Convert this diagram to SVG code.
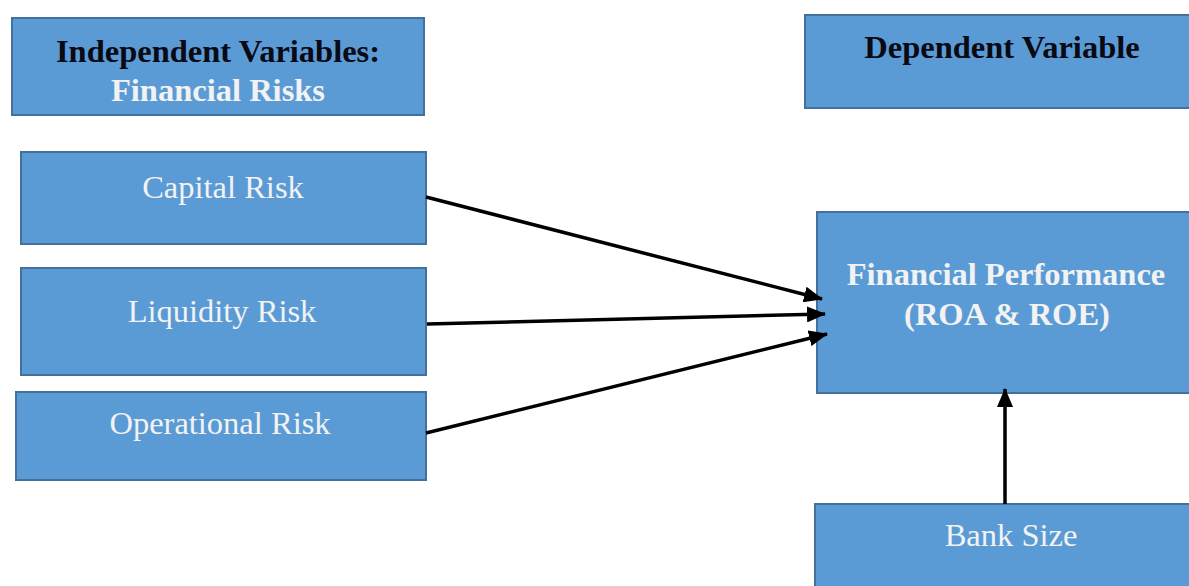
<svg xmlns="http://www.w3.org/2000/svg" width="1189" height="586" viewBox="0 0 1189 586">
  <defs>
    <style>
      .box { fill: #5b9bd5; stroke: #41719c; stroke-width: 2; }
      .hd { font-family: "Liberation Serif", "Times New Roman", serif; font-size: 32.5px; font-weight: bold; text-anchor: middle; }
      .dark { fill: #0a0a14; }
      .light { fill: #f2f2f2; }
      .lbl { font-family: "Liberation Serif", "Times New Roman", serif; font-size: 32.5px; text-anchor: middle; fill: #f2f2f2; }
      .link { stroke: #000; stroke-width: 3.5; fill: none; marker-end: url(#arrow); }
    </style>
    <marker id="arrow" markerUnits="userSpaceOnUse" markerWidth="20" markerHeight="16" refX="18" refY="8" orient="auto">
      <path d="M0,0 L19,8 L0,16 z" fill="#000"/>
    </marker>
  </defs>
  <rect width="1189" height="586" fill="#ffffff"/>

  <g id="independent-header">
    <rect class="box" x="12" y="18" width="412" height="97"/>
    <text class="hd dark" x="218" y="62">Independent Variables:</text>
    <text class="hd light" x="218" y="101">Financial Risks</text>
  </g>

  <g id="dependent-header">
    <rect class="box" x="805" y="15" width="400" height="93"/>
    <text class="hd dark" x="1002" y="58">Dependent Variable</text>
  </g>

  <g id="capital-risk">
    <rect class="box" x="21" y="152" width="405" height="92"/>
    <text class="lbl" x="223" y="198">Capital Risk</text>
  </g>

  <g id="liquidity-risk">
    <rect class="box" x="21" y="268" width="405" height="107"/>
    <text class="lbl" x="222" y="322">Liquidity Risk</text>
  </g>

  <g id="operational-risk">
    <rect class="box" x="16" y="392" width="410" height="88"/>
    <text class="lbl" x="220" y="434">Operational Risk</text>
  </g>

  <g id="financial-performance">
    <rect class="box" x="817" y="212" width="390" height="181"/>
    <text class="hd light" x="1006" y="285">Financial Performance</text>
    <text class="hd light" x="1007" y="325">(ROA &amp; ROE)</text>
  </g>

  <g id="bank-size">
    <rect class="box" x="815" y="504" width="390" height="100"/>
    <text class="lbl" x="1011" y="546">Bank Size</text>
  </g>

  <g id="connectors">
    <line class="link" x1="426" y1="197" x2="822" y2="299"/>
    <line class="link" x1="427" y1="324" x2="825" y2="314"/>
    <line class="link" x1="426" y1="433" x2="827" y2="334"/>
    <line class="link" x1="1005" y1="504" x2="1005" y2="389"/>
  </g>
</svg>
